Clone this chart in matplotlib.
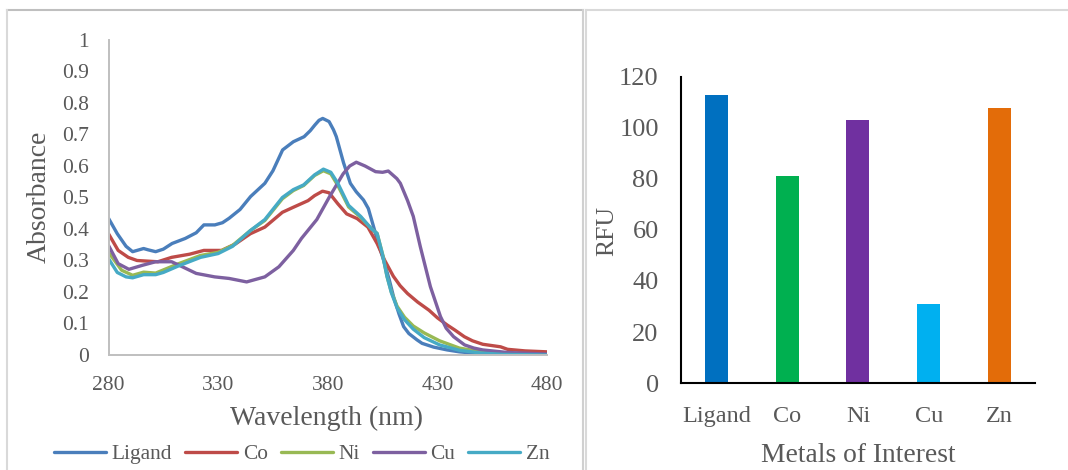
import matplotlib.pyplot as plt
from matplotlib.lines import Line2D
import numpy as np

plt.rcParams['font.family'] = ['Liberation Serif', 'DejaVu Serif']

TEXT = '#595959'

# absorbance spectra (wavelength nm, absorbance)
ligand_wl = [280, 284, 288, 291, 296, 298, 301.5, 305, 309, 315, 320, 323.5, 328.5, 332, 335, 340, 344.8,
             351.3, 355, 359.4, 364.3, 369.2, 372, 374.1, 376, 377.7, 380.6, 382.6, 383.9, 387.2, 390.3,
             393, 396.3, 398.5, 400.9, 403, 405.5, 408, 410, 412.5, 414.6, 417, 420.7, 423, 428.3, 434.5,
             440, 450.8, 460, 470, 480]
ligand_abs = [0.434, 0.385, 0.345, 0.328, 0.338, 0.334, 0.328, 0.336, 0.354, 0.370, 0.388, 0.413, 0.413, 0.420,
              0.434, 0.462, 0.503, 0.545, 0.585, 0.651, 0.677, 0.693, 0.712, 0.730, 0.745, 0.751, 0.741, 0.715,
              0.693, 0.610, 0.545, 0.518, 0.492, 0.465, 0.407, 0.355, 0.300, 0.240, 0.185, 0.130, 0.090, 0.068,
              0.048, 0.037, 0.025, 0.016, 0.010, 0.003, 0.001, 0.0, 0.0]

co_wl = [280, 284.4, 289, 293, 302.5, 308.8, 317, 323.5, 331.6, 338, 344.7, 351.3, 359.3, 364.3, 371, 374,
         377.6, 380.6, 384.6, 388.6, 393.4, 398.3, 402.5, 406, 409.9, 413, 416.4, 421, 426.2, 430, 434.5,
         438, 442.3, 446, 450.7, 458.8, 462, 470, 480]
co_abs = [0.385, 0.332, 0.310, 0.300, 0.296, 0.310, 0.320, 0.332, 0.332, 0.353, 0.385, 0.406, 0.453, 0.469,
          0.490, 0.506, 0.520, 0.515, 0.480, 0.448, 0.433, 0.406, 0.354, 0.300, 0.250, 0.220, 0.195, 0.168,
          0.142, 0.118, 0.095, 0.079, 0.058, 0.045, 0.034, 0.026, 0.018, 0.013, 0.010]

ni_wl = [280, 286, 291, 296, 301.5, 312, 322, 330, 336.6, 344.7, 351.3, 359.3, 364.3, 369, 374, 378, 381.4,
         384.6, 389.5, 395, 400, 402.5, 405, 407, 409, 411.6, 415, 419, 424, 431, 440, 450, 460, 480]
ni_abs = [0.326, 0.269, 0.253, 0.263, 0.260, 0.290, 0.316, 0.326, 0.348, 0.395, 0.427, 0.496, 0.522, 0.538,
          0.570, 0.585, 0.575, 0.538, 0.470, 0.437, 0.400, 0.386, 0.320, 0.250, 0.200, 0.155, 0.120, 0.092,
          0.070, 0.045, 0.022, 0.010, 0.003, 0.0]

cu_wl = [280, 284.4, 289.3, 295.6, 301.5, 308.8, 313.7, 320, 328.4, 335, 343, 351.3, 357.7, 364.3, 368, 375,
         380.6, 387, 390, 393, 397, 401.8, 405, 407.6, 411.5, 413.1, 416.4, 419, 422.2, 426.8, 431.4, 434,
         437.4, 442.4, 446.6, 450.7, 462, 480]
cu_abs = [0.348, 0.290, 0.272, 0.285, 0.296, 0.296, 0.280, 0.259, 0.248, 0.243, 0.232, 0.248, 0.280, 0.332,
          0.370, 0.430, 0.500, 0.575, 0.600, 0.612, 0.600, 0.582, 0.580, 0.584, 0.560, 0.545, 0.490, 0.440,
          0.344, 0.217, 0.122, 0.085, 0.058, 0.032, 0.022, 0.016, 0.008, 0.003]

zn_wl = [280, 284, 288, 291, 296, 301.5, 305, 312, 322, 330, 336.6, 344.7, 351.3, 359.3, 364.3, 369, 374,
         378, 381.4, 384.6, 389.5, 395, 400, 402.5, 405, 407, 409, 411.6, 415, 419, 424, 431, 440, 450, 460, 480]
zn_abs = [0.306, 0.262, 0.248, 0.245, 0.255, 0.255, 0.262, 0.283, 0.310, 0.322, 0.345, 0.395, 0.430, 0.500,
          0.525, 0.540, 0.572, 0.590, 0.580, 0.545, 0.475, 0.440, 0.400, 0.386, 0.318, 0.250, 0.198, 0.150,
          0.112, 0.082, 0.055, 0.032, 0.015, 0.006, 0.002, 0.0]

series_names = ['Ligand', 'Co', 'Ni', 'Cu', 'Zn']
line_colors = ['#4A7EBB', '#BE4B48', '#98B954', '#7D60A0', '#46AAC5']

# fluorescence bar chart
metals = ['Ligand', 'Co', 'Ni', 'Cu', 'Zn']
rfu = [113, 81, 103, 31, 108]
bar_colors = ['#0070C0', '#00B050', '#7030A0', '#00B0F0', '#E36C09']

fig = plt.figure(figsize=(10.68, 4.70), dpi=100)

# ---- left: absorbance spectra ----
ax1 = fig.add_axes([0.1016, 0.2447, 0.4106, 0.6702])
spectra = [(ligand_wl, ligand_abs), (co_wl, co_abs), (ni_wl, ni_abs), (cu_wl, cu_abs), (zn_wl, zn_abs)]
for (wl, ab), name, c in zip(spectra, series_names, line_colors):
    ax1.plot(wl, ab, color=c, lw=2.4, label=name, solid_capstyle='round')

ax1.set_xlim(280, 480)
ax1.set_ylim(0, 1)
ax1.set_xticks(np.arange(280, 481, 50))
ax1.set_yticks(np.arange(0, 1.01, 0.1))
ax1.set_yticklabels(['0', '0.1', '0.2', '0.3', '0.4', '0.5', '0.6', '0.7', '0.8', '0.9', '1'])
ax1.tick_params(length=0, labelsize=15.5, labelcolor=TEXT)
ax1.tick_params(axis='y', pad=14)
ax1.tick_params(axis='x', pad=15)
for s in ['top', 'right']:
    ax1.spines[s].set_visible(False)
for s in ['left', 'bottom']:
    ax1.spines[s].set_color('#BFBFBF')
    ax1.spines[s].set_linewidth(1.4)
fig.text(0.306, 1 - 418 / 470, 'Wavelength (nm)', fontsize=20, color=TEXT, ha='center', va='center')
fig.text(39 / 1068, 1 - 197 / 470, 'Absorbance', fontsize=20, color=TEXT, ha='center', va='center',
         rotation=90)

fig.legend(*ax1.get_legend_handles_labels(), loc='center', bbox_to_anchor=(0.2825, 0.033), ncol=5,
           frameon=False, fontsize=15.4, handlelength=2.45, handletextpad=0.25, columnspacing=0.6,
           labelcolor=TEXT)

# ---- right: fluorescence ----
ax2 = fig.add_axes([0.6376, 0.1851, 0.3315, 0.6511])
ax2.bar(range(len(metals)), rfu, width=0.325, color=bar_colors)
ax2.set_xlim(-0.5, 4.5)
ax2.set_ylim(0, 120)
ax2.set_yticks(np.arange(0, 121, 20))
ax2.set_xticks(range(len(metals)))
ax2.set_xticklabels(metals)
ax2.tick_params(length=0, labelcolor=TEXT)
ax2.tick_params(axis='y', labelsize=19, pad=16)
ax2.tick_params(axis='x', labelsize=17.5, pad=16.5)
for s in ['top', 'right']:
    ax2.spines[s].set_visible(False)
for s in ['left', 'bottom']:
    ax2.spines[s].set_color('black')
    ax2.spines[s].set_linewidth(1.5)
fig.text(858.7 / 1068, 1 - 455 / 470, 'Metals of Interest', fontsize=19.8, color=TEXT, ha='center',
         va='center')
fig.text(607 / 1068, 1 - 230.7 / 470, 'RFU', fontsize=18.5, color=TEXT, ha='center', va='center',
         rotation=90)

# chart frames like the spreadsheet export
fr = dict(transform=fig.transFigure, lw=1.5)
fig.add_artist(Line2D([7 / 1068, 583 / 1068], [1 - 10 / 470] * 2, color='#BFBFBF', **fr))
fig.add_artist(Line2D([7 / 1068] * 2, [0, 1 - 10 / 470], color='#D9D9D9', **fr))
fig.add_artist(Line2D([583 / 1068] * 2, [0, 1 - 10 / 470], color='#D0D0D0', **fr))
fig.add_artist(Line2D([586 / 1068, 1], [1 - 10 / 470] * 2, color='#D9D9D9', **fr))
fig.add_artist(Line2D([586 / 1068] * 2, [0, 1 - 10 / 470], color='#D9D9D9', **fr))

fig.savefig('out.png', dpi=100)
